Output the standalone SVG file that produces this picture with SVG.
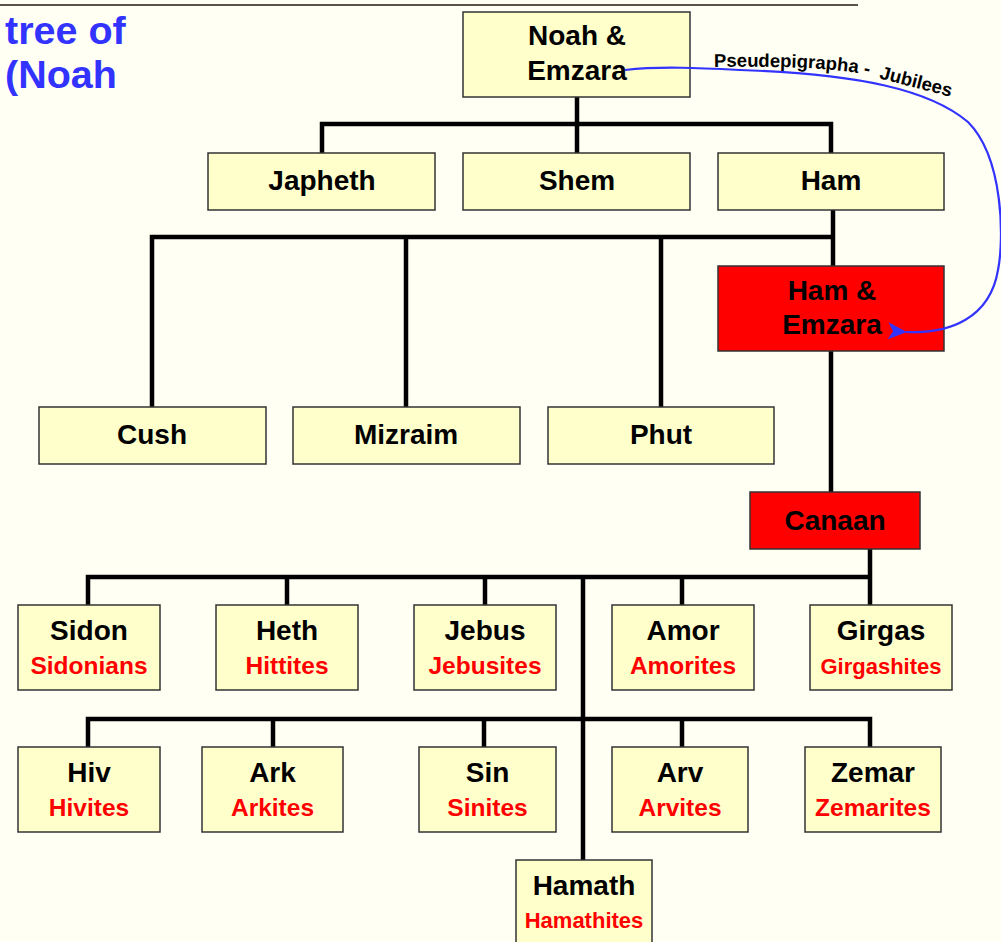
<svg xmlns="http://www.w3.org/2000/svg" width="1001" height="942" viewBox="0 0 1001 942">
<defs>
<style>
.box{fill:#FFFFCC;stroke:#333333;stroke-width:1.5}
.red{fill:#FF0000;stroke:#333333;stroke-width:1.5}
.n{font-family:"Liberation Sans",Arial,sans-serif;font-weight:bold;font-size:28px;fill:#000;text-anchor:middle}
.p{font-family:"Liberation Sans",Arial,sans-serif;font-weight:bold;font-size:24.5px;fill:#FF0000;text-anchor:middle}
.ps{font-size:22px}
.title{font-family:"Liberation Sans",Arial,sans-serif;font-weight:bold;font-size:39.5px;fill:#3333FF}
.conn{fill:none;stroke:#000;stroke-width:4.5;stroke-linejoin:miter}
</style>
<marker id="arr" markerWidth="22" markerHeight="20" refX="1" refY="8" orient="auto" markerUnits="userSpaceOnUse" viewBox="0 0 22 18">
<path d="M0 8 L19 0 L14 8 L19 17 Z" fill="#3333FF"/>
</marker>
<path id="lbl" d="M714 67 C790 66 852 68 882 79 C912 87 937 93 966 101"/>
</defs>
<rect x="0" y="0" width="1001" height="942" fill="#FFFFF4"/>
<line x1="0" y1="5" x2="858" y2="5" stroke="#5B534B" stroke-width="2"/>
<text class="title" x="5" y="44">tree of</text>
<text class="title" x="5" y="88">(Noah</text>

<g id="connectors">
<path class="conn" d="M577 97 V153"/>
<path class="conn" d="M322 153 V124 H831 V153"/>
<path class="conn" d="M833 210 V266"/>
<path class="conn" d="M152 407 V237 H833"/>
<path class="conn" d="M406 237 V407"/>
<path class="conn" d="M661 237 V407"/>
<path class="conn" d="M831 351 V492"/>
<path class="conn" d="M870 549 V605"/>
<path class="conn" d="M88 605 V577 H870"/>
<path class="conn" d="M287 577 V605"/>
<path class="conn" d="M485 577 V605"/>
<path class="conn" d="M682 577 V605"/>
<path class="conn" d="M583 577 V860"/>
<path class="conn" d="M88 747 V719 H870 V747"/>
<path class="conn" d="M273 719 V747"/>
<path class="conn" d="M484 719 V747"/>
<path class="conn" d="M682 719 V747"/>
</g>

<g id="noah"><rect class="box" x="463" y="12" width="227" height="85"/><text class="n" x="577" y="45">Noah &amp;</text><text class="n" x="577" y="80">Emzara</text></g>
<g id="japheth"><rect class="box" x="208" y="153" width="227" height="57"/><text class="n" x="322" y="190">Japheth</text></g>
<g id="shem"><rect class="box" x="463" y="153" width="227" height="57"/><text class="n" x="577" y="190">Shem</text></g>
<g id="ham"><rect class="box" x="718" y="153" width="226" height="57"/><text class="n" x="831" y="190">Ham</text></g>
<g id="ham-emzara"><rect class="red" x="718" y="266" width="226" height="85"/><text class="n" x="832" y="300">Ham &amp;</text><text class="n" x="832" y="334">Emzara</text></g>
<g id="cush"><rect class="box" x="39" y="407" width="227" height="57"/><text class="n" x="152" y="444">Cush</text></g>
<g id="mizraim"><rect class="box" x="293" y="407" width="227" height="57"/><text class="n" x="406" y="444">Mizraim</text></g>
<g id="phut"><rect class="box" x="548" y="407" width="226" height="57"/><text class="n" x="661" y="444">Phut</text></g>
<g id="canaan"><rect class="red" x="750" y="492" width="170" height="57"/><text class="n" x="835" y="530">Canaan</text></g>

<g id="sidon"><rect class="box" x="18" y="605" width="142" height="85"/><text class="n" x="89" y="640">Sidon</text><text class="p" x="89" y="674">Sidonians</text></g>
<g id="heth"><rect class="box" x="216" y="605" width="142" height="85"/><text class="n" x="287" y="640">Heth</text><text class="p" x="287" y="674">Hittites</text></g>
<g id="jebus"><rect class="box" x="414" y="605" width="142" height="85"/><text class="n" x="485" y="640">Jebus</text><text class="p" x="485" y="674">Jebusites</text></g>
<g id="amor"><rect class="box" x="612" y="605" width="142" height="85"/><text class="n" x="683" y="640">Amor</text><text class="p" x="683" y="674">Amorites</text></g>
<g id="girgas"><rect class="box" x="810" y="605" width="142" height="85"/><text class="n" x="881" y="640">Girgas</text><text class="p ps" x="881" y="674">Girgashites</text></g>

<g id="hiv"><rect class="box" x="18" y="747" width="142" height="85"/><text class="n" x="89" y="782">Hiv</text><text class="p" x="89" y="816">Hivites</text></g>
<g id="ark"><rect class="box" x="202" y="747" width="141" height="85"/><text class="n" x="272.5" y="782">Ark</text><text class="p" x="272.5" y="816">Arkites</text></g>
<g id="sin"><rect class="box" x="419" y="747" width="137" height="85"/><text class="n" x="487.5" y="782">Sin</text><text class="p" x="487.5" y="816">Sinites</text></g>
<g id="arv"><rect class="box" x="612" y="747" width="136" height="85"/><text class="n" x="680" y="782">Arv</text><text class="p" x="680" y="816">Arvites</text></g>
<g id="zemar"><rect class="box" x="805" y="747" width="136" height="85"/><text class="n" x="873" y="782">Zemar</text><text class="p" x="873" y="816">Zemarites</text></g>
<g id="hamath"><rect class="box" x="516" y="860" width="136" height="90"/><text class="n" x="584" y="895">Hamath</text><text class="p ps" x="584" y="928">Hamathites</text></g>

<g id="jubilees-link">
<path d="M625 70 C660 66 700 68 740 70 C860 74 930 90 968 122 C1004 158 1004 240 998 270 C990 318 950 334 906 332" fill="none" stroke="#3333FF" stroke-width="2.2" marker-end="url(#arr)"/>
<text font-family="Liberation Sans, Arial, sans-serif" font-weight="bold" font-size="18.5" fill="#000" xml:space="preserve"><textPath href="#lbl">Pseudepigrapha -  Jubilees</textPath></text>
</g>
</svg>
